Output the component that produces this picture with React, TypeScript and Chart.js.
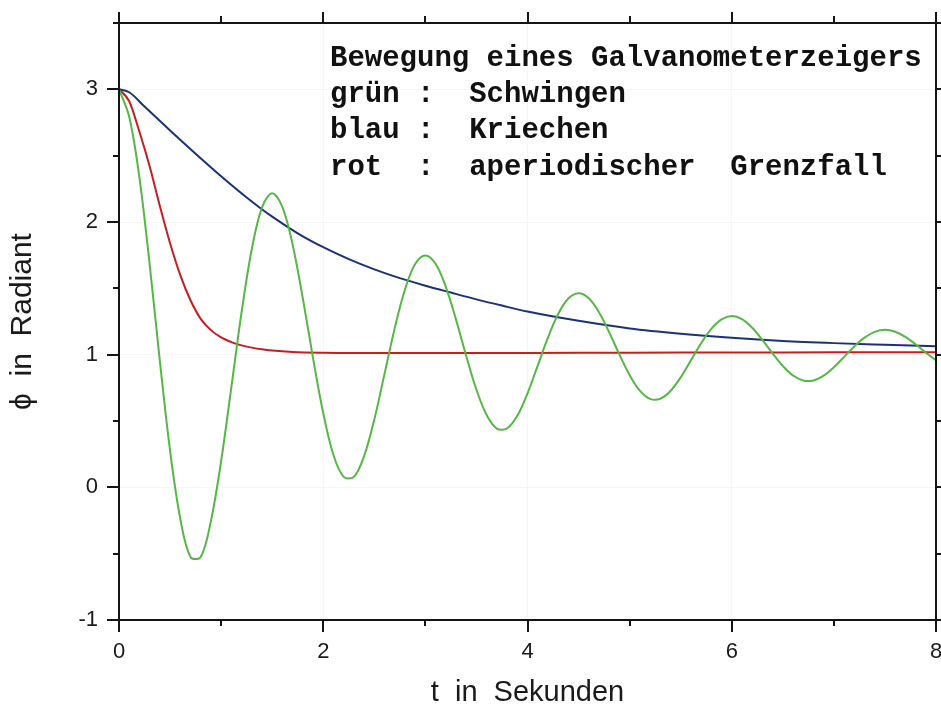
import React, { useEffect, useRef } from "react";
import { Chart, registerables } from "chart.js";

Chart.register(...registerables);

// time axis samples (seconds)
const T_GREEN = [
  0.0, 0.1, 0.2, 0.3, 0.4, 0.5, 0.6, 0.7, 0.8, 0.9,
  1.0, 1.1, 1.2, 1.3, 1.4, 1.5, 1.6, 1.7, 1.8, 1.9,
  2.0, 2.1, 2.2, 2.3, 2.4, 2.5, 2.6, 2.7, 2.8, 2.9,
  3.0, 3.1, 3.2, 3.3, 3.4, 3.5, 3.6, 3.7, 3.8, 3.9,
  4.0, 4.1, 4.2, 4.3, 4.4, 4.5, 4.6, 4.7, 4.8, 4.9,
  5.0, 5.1, 5.2, 5.3, 5.4, 5.5, 5.6, 5.7, 5.8, 5.9,
  6.0, 6.1, 6.2, 6.3, 6.4, 6.5, 6.6, 6.7, 6.8, 6.9,
  7.0, 7.1, 7.2, 7.3, 7.4, 7.5, 7.6, 7.7, 7.8, 7.9,
  8.0,
];
// grün: Schwingen
const PHI_GREEN = [
  3.000, 2.793, 2.335, 1.681, 0.952, 0.277, -0.235, -0.525, -0.525, -0.253,
  0.197, 0.754, 1.318, 1.795, 2.108, 2.217, 2.112, 1.829, 1.424, 0.974,
  0.559, 0.244, 0.079, 0.079, 0.236, 0.512, 0.855, 1.200, 1.491, 1.683,
  1.748, 1.685, 1.511, 1.264, 0.990, 0.736, 0.545, 0.443, 0.444, 0.539,
  0.708, 0.917, 1.128, 1.306, 1.423, 1.463, 1.425, 1.319, 1.168, 1.001,
  0.846, 0.729, 0.667, 0.668, 0.726, 0.829, 0.957, 1.086, 1.195, 1.266,
  1.291, 1.268, 1.203, 1.111, 1.009, 0.915, 0.843, 0.806, 0.806, 0.842,
  0.905, 0.983, 1.062, 1.128, 1.172, 1.187, 1.173, 1.134, 1.078, 1.015,
  0.958,
];

// blau: Kriechen
const T_BLUE = [0, 0.1, 0.25, 0.5, 0.75, 1, 1.25, 1.5, 1.75, 2, 2.25, 2.5, 2.75, 3, 3.25, 3.5, 3.75, 4, 4.5, 5, 5.5, 6, 6.5, 7, 7.5, 8];
const PHI_BLUE = [3.0, 2.978, 2.87, 2.69, 2.515, 2.345, 2.185, 2.04, 1.915, 1.81, 1.72, 1.643, 1.577, 1.52, 1.468, 1.417, 1.37, 1.325, 1.255, 1.198, 1.158, 1.127, 1.103, 1.087, 1.075, 1.064];

// rot: aperiodischer Grenzfall
const T_RED = [0, 0.1, 0.2, 0.3, 0.4, 0.5, 0.6, 0.7, 0.8, 0.9, 1.0, 1.1, 1.2, 1.3, 1.4, 1.5, 1.7, 2.0, 2.5, 3, 4, 5, 6, 7, 8];
const PHI_RED = [3.0, 2.91, 2.68, 2.42, 2.12, 1.84, 1.6, 1.41, 1.27, 1.185, 1.13, 1.095, 1.07, 1.053, 1.04, 1.031, 1.02, 1.014, 1.012, 1.012, 1.013, 1.015, 1.016, 1.018, 1.019];

// axis ticks
const X_MAJOR = [0, 2, 4, 6, 8];
const X_MINOR = [1, 3, 5, 7];
const Y_MAJOR = [-1, 0, 1, 2, 3];
const Y_MINOR = [-0.5, 0.5, 1.5, 2.5, 3.5];

const X_TITLE = "t  in  Sekunden";
const Y_TITLE = "\u03D5  in  Radiant";

const NOTE_LINES = [
  "Bewegung eines Galvanometerzeigers",
  "gr\u00FCn :  Schwingen",
  "blau :  Kriechen",
  "rot  :  aperiodischer  Grenzfall",
];
// anchor of the note block in data coordinates (left edge, baselines)
const NOTE_X = 2.066;
const NOTE_Y = [3.177, 2.903, 2.63, 2.356];

const pts = (xs: number[], ys: number[]) => xs.map((x, i) => ({ x, y: ys[i] }));

const framePlugin = {
  id: "frameTicks",
  afterDatasetsDraw(chart: any) {
    const { ctx, chartArea: a, scales } = chart;
    const xs = scales.x;
    const ys = scales.y;
    ctx.save();
    ctx.strokeStyle = "#141414";
    ctx.lineWidth = 2;
    ctx.lineCap = "butt";
    ctx.strokeRect(a.left, a.top, a.right - a.left, a.bottom - a.top);
    ctx.beginPath();
    const xt = (vals: number[], lenB: number, lenT: number) => {
      vals.forEach((v) => {
        const p = Math.round(xs.getPixelForValue(v));
        ctx.moveTo(p, a.bottom);
        ctx.lineTo(p, a.bottom + lenB);
        ctx.moveTo(p, a.top);
        ctx.lineTo(p, a.top - lenT);
      });
    };
    const yt = (vals: number[], len: number) => {
      vals.forEach((v) => {
        const p = Math.round(ys.getPixelForValue(v));
        ctx.moveTo(a.left, p);
        ctx.lineTo(a.left - len, p);
        ctx.moveTo(a.right, p);
        ctx.lineTo(a.right + len, p);
      });
    };
    xt(X_MAJOR, 12, 11);
    xt(X_MINOR, 6, 7);
    yt(Y_MAJOR, 12);
    yt(Y_MINOR, 6);
    ctx.stroke();

    ctx.fillStyle = "#111";
    ctx.font = 'bold 29px "Liberation Mono", "Courier New", monospace';
    ctx.textAlign = "left";
    ctx.textBaseline = "alphabetic";
    const lx = xs.getPixelForValue(NOTE_X);
    NOTE_LINES.forEach((s, i) => {
      ctx.fillText(s, lx, ys.getPixelForValue(NOTE_Y[i]));
    });
    ctx.restore();
  },
};

export default function App() {
  const ref = useRef<HTMLCanvasElement | null>(null);

  useEffect(() => {
    if (!ref.current) return;
    const chart = new Chart(ref.current, {
      type: "line",
      data: {
        datasets: [
          {
            label: "grün",
            data: pts(T_GREEN, PHI_GREEN),
            borderColor: "rgb(86,182,70)",
            borderWidth: 2,
            pointRadius: 0,
            tension: 0.35,
          },
          {
            label: "blau",
            data: pts(T_BLUE, PHI_BLUE),
            borderColor: "rgb(26,50,118)",
            borderWidth: 2,
            pointRadius: 0,
            cubicInterpolationMode: "monotone",
          },
          {
            label: "rot",
            data: pts(T_RED, PHI_RED),
            borderColor: "rgb(196,30,34)",
            borderWidth: 2,
            pointRadius: 0,
            cubicInterpolationMode: "monotone",
          },
        ],
      },
      options: {
        responsive: false,
        devicePixelRatio: 1,
        animation: false,
        layout: { padding: { top: 23, right: 5, left: 0, bottom: 0 } },
        plugins: { legend: { display: false }, tooltip: { enabled: false } },
        scales: {
          x: {
            type: "linear",
            min: 0,
            max: 8,
            border: { display: false },
            grid: { color: "rgba(0,0,0,0.035)", drawTicks: false },
            ticks: {
              stepSize: 2,
              padding: 19,
              color: "#1a1a1a",
              font: { family: '"Liberation Sans", Arial, sans-serif', size: 22 },
              maxRotation: 0,
            },
            title: {
              display: true,
              text: X_TITLE,
              color: "#1a1a1a",
              font: { family: '"Liberation Sans", Arial, sans-serif', size: 29 },
              padding: { top: 0, bottom: 1 },
            },
            afterFit(scale: any) {
              scale.height = 91;
              scale.paddingLeft = 0;
              scale.paddingRight = 0;
            },
          },
          y: {
            type: "linear",
            min: -1,
            max: 3.5,
            border: { display: false },
            grid: { color: "rgba(0,0,0,0.035)", drawTicks: false },
            ticks: {
              stepSize: 1,
              padding: 21,
              color: "#1a1a1a",
              font: { family: '"Liberation Sans", Arial, sans-serif', size: 22 },
            },
            afterBuildTicks(scale: any) {
              scale.ticks = scale.ticks.filter((t: any) => Number.isInteger(t.value));
            },
            title: {
              display: true,
              text: Y_TITLE,
              color: "#1a1a1a",
              font: { family: '"Liberation Sans", Arial, sans-serif', size: 30 },
              padding: { top: 5, bottom: 0 },
            },
            afterFit(scale: any) {
              scale.width = 119;
              scale.paddingTop = 0;
              scale.paddingBottom = 0;
            },
          },
        },
      },
      plugins: [framePlugin],
    });
    return () => chart.destroy();
  }, []);

  return (
    <div style={{ position: "absolute", left: 0, top: 0, width: 941, height: 711, background: "#fff" }}>
      <canvas ref={ref} width={941} height={711} style={{ display: "block" }} />
    </div>
  );
}
